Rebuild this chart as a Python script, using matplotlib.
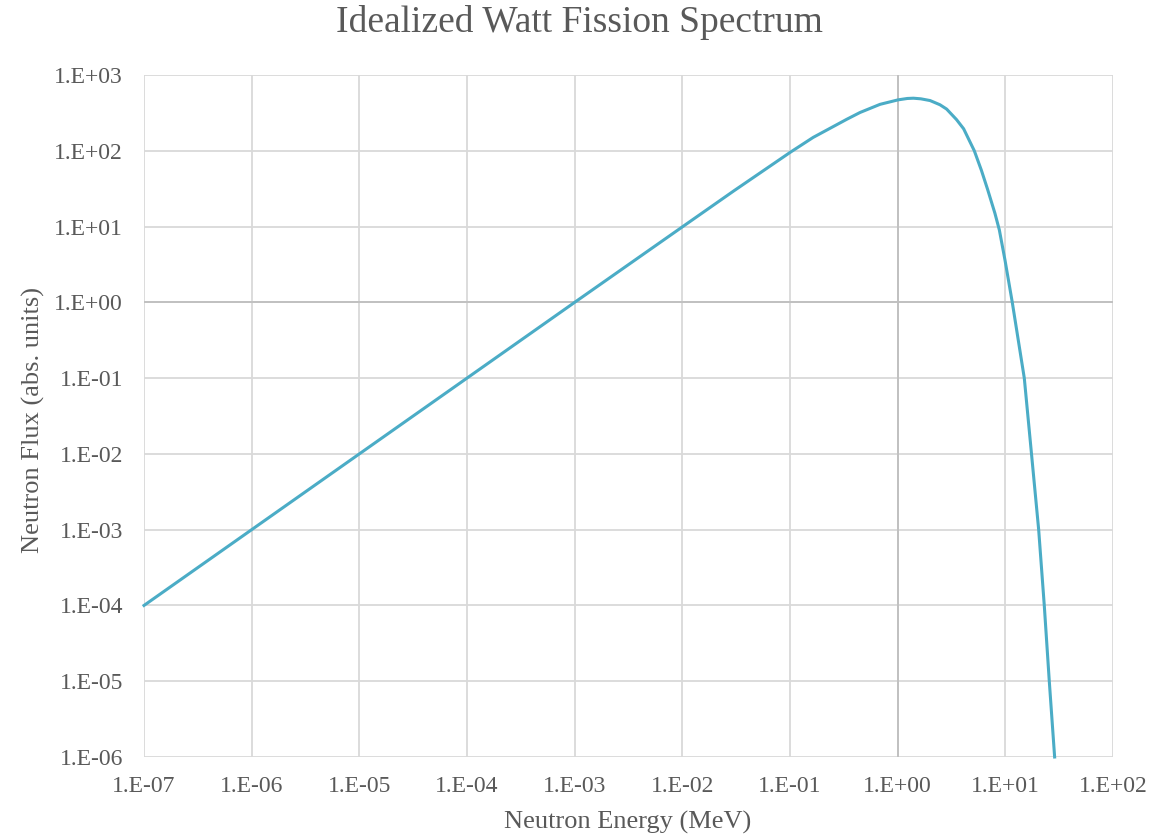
# %%

# Idealized Watt fission spectrum, log-log

import numpy as np
import matplotlib
matplotlib.use('Agg')
import matplotlib.pyplot as plt
from matplotlib.ticker import FuncFormatter, NullLocator


# %%

# values

energy_mev = [1e-7, 1e-6, 1e-5, 1e-4, 1e-3, 1e-2, 3e-2, 0.1, 0.164, 0.336,
              0.447, 0.686, 1.01, 1.23, 1.4, 1.64, 2.0, 2.47, 2.85, 3.52,
              4.1, 5.15, 6.0, 6.84, 8.0, 8.8, 9.93, 11.6, 15.0, 17.5,
              20.4, 23.0, 25.6, 28.7]
flux = [1e-4, 1e-3, 1e-2, 0.1, 1.0, 9.9, 29.5, 95, 150, 260,
        320, 410, 470, 490, 494, 485, 460, 405, 355, 258,
        195, 100, 55, 31, 15, 9, 3.6, 1.0, 0.1, 1e-2,
        1e-3, 1e-4, 1e-5, 1e-6]

x_ticks = [1e-7, 1e-6, 1e-5, 1e-4, 1e-3, 1e-2, 1e-1, 1e0, 1e1, 1e2]
y_ticks = [1e-6, 1e-5, 1e-4, 1e-3, 1e-2, 1e-1, 1e0, 1e1, 1e2, 1e3]

title = 'Idealized Watt Fission Spectrum'
x_label = 'Neutron Energy (MeV)'
y_label = 'Neutron Flux (abs. units)'


# %%

# styling

plt.rcParams['font.family'] = ['Liberation Serif', 'DejaVu Serif']
text_grey = '#595959'
line_col = '#4BACC6'


# %%

# plotting

fig = plt.figure(figsize=(11.73, 8.38), dpi=100)
ax = fig.add_axes([144 / 1173, 1 - 757 / 838, (1113 - 144) / 1173, (757 - 75) / 838])

ax.set_xscale('log')
ax.set_yscale('log')
ax.set_xlim(x_ticks[0], x_ticks[-1])
ax.set_ylim(y_ticks[0], y_ticks[-1])

ax.set_xticks(x_ticks)
ax.set_yticks(y_ticks)
ax.xaxis.set_minor_locator(NullLocator())
ax.yaxis.set_minor_locator(NullLocator())

fmt = FuncFormatter(lambda v, pos: '1.E{:+03d}'.format(int(round(np.log10(v)))))
ax.xaxis.set_major_formatter(fmt)
ax.yaxis.set_major_formatter(fmt)

ax.grid(True, color='#D9D9D9', linewidth=1.3)
ax.set_axisbelow(True)
ax.axvline(1.0, color='#BFBFBF', linewidth=1.3, zorder=1)
ax.axhline(1.0, color='#BFBFBF', linewidth=1.3, zorder=1)

for s in ax.spines.values():
    s.set_visible(False)

ax.tick_params(axis='both', length=0, labelsize=17, labelcolor=text_grey)
ax.tick_params(axis='y', pad=15)
ax.tick_params(axis='x', pad=14)

ax.plot(energy_mev, flux, color=line_col, linewidth=2.2, zorder=3,
        clip_on=False, solid_joinstyle='round')

# titles placed like the reference (title centred on the figure)
fig.text(580 / 1173, 1 - 22 / 838, title, fontsize=27, color=text_grey,
         ha='center', va='center')
fig.text(628 / 1173, 1 - 822 / 838, x_label, fontsize=19, color=text_grey,
         ha='center', va='center')
fig.text(33 / 1173, 1 - 420 / 838, y_label, fontsize=19, color=text_grey,
         ha='center', va='center', rotation=90)

fig.savefig('out.png', dpi=100)
